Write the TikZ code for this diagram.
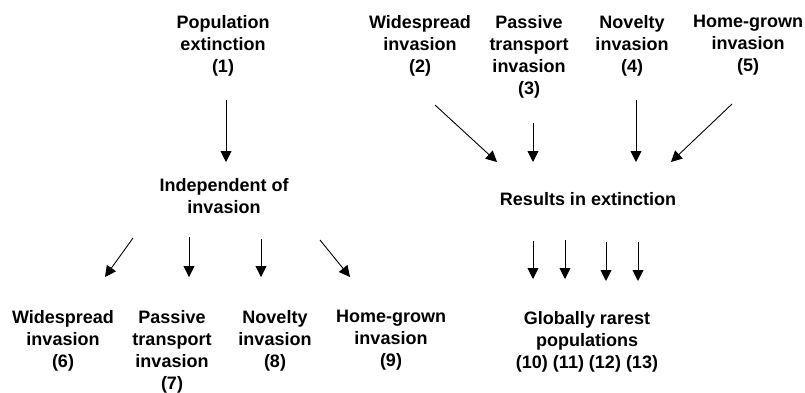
\documentclass[tikz,border=0pt]{standalone}
\usepackage{fontspec}
\setmainfont{Liberation Sans}
\usetikzlibrary{arrows.meta}

\begin{document}
\begin{tikzpicture}[x=1pt, y=-1pt,
    lbl/.style={anchor=north, inner sep=0pt, align=center,
                font=\fontsize{18}{22}\selectfont\bfseries},
    arr/.style={line width=.9pt, -{Triangle[length=11pt,width=11pt]}}]
            \useasboundingbox (0, 0) rectangle (805, 393);
       %     %%top row
            \node[lbl] (pop) at (223, 15) {Population\\extinction\\(1)};
            \node[lbl] (w2) at (420, 15) {Widespread\\invasion\\(2)};
            \node[lbl] (p3) at (529, 15) {Passive\\transport\\invasion\\(3)};
            \node[lbl] (n4) at (632, 15) {Novelty\\invasion\\(4)};
            \node[lbl] (h5) at (748, 15) {Home-grown\\invasion\\(5)};

       %     %%middle
            \node[lbl] (indep) at (224, 178) {Independent of\\invasion};
            \node[lbl] (res) at (588, 192) {Results in extinction};

       %     %%bottom row
            \node[lbl] (w6) at (63, 310) {Widespread\\invasion\\(6)};
            \node[lbl] (p7) at (172, 310) {Passive\\transport\\invasion\\(7)};
            \node[lbl] (n8) at (275, 310) {Novelty\\invasion\\(8)};
            \node[lbl] (h9) at (391, 310) {Home-grown\\invasion\\(9)};
            \node[lbl] (rare) at (587, 311) {Globally rarest\\populations\\(10) (11) (12) (13)};

       %     %%arrow ends
            \coordinate (a1) at (226, 100);  \coordinate (b1) at (226, 162);
            \coordinate (a2) at (435, 105);  \coordinate (b2) at (497, 162);
            \coordinate (a3) at (533, 123);  \coordinate (b3) at (533, 162);
            \coordinate (a4) at (636, 100);  \coordinate (b4) at (636, 162);
            \coordinate (a5) at (732, 104);  \coordinate (b5) at (671, 162);
            \coordinate (a6) at (133, 238);  \coordinate (b6) at (105, 277);
            \coordinate (a7) at (189, 237);  \coordinate (b7) at (189, 277);
            \coordinate (a8) at (261, 239);  \coordinate (b8) at (261, 277);
            \coordinate (a9) at (320, 240);  \coordinate (b9) at (350, 277);
            \coordinate (a10) at (533, 241); \coordinate (b10) at (533, 279);
            \coordinate (a11) at (565, 240); \coordinate (b11) at (565, 279);
            \coordinate (a12) at (606, 242); \coordinate (b12) at (606, 281);
            \coordinate (a13) at (638, 242); \coordinate (b13) at (638, 281);

       %     %%arrows
            \foreach \i in {1,...,13}
                \draw[arr] (a\i) -- (b\i);
        \end{tikzpicture}
\end{document}
